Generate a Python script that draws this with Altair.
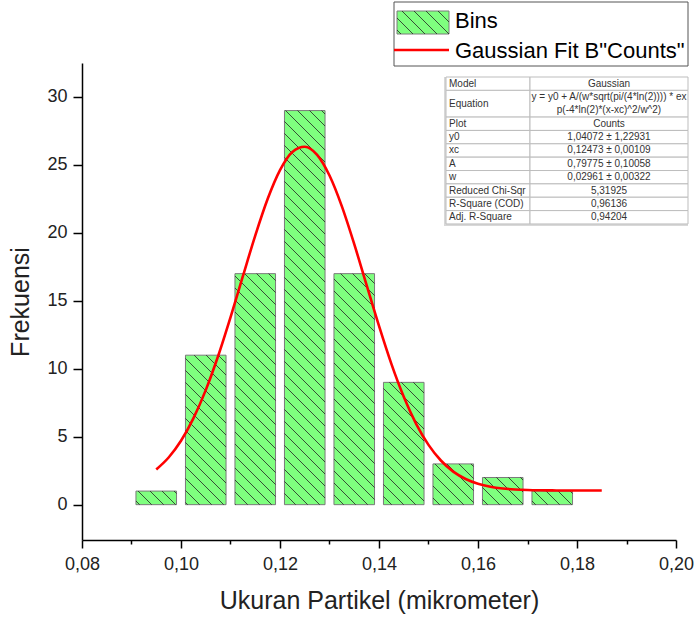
import altair as alt
import pandas as pd

# ---------------- data ----------------
bin_centers = [0.095, 0.105, 0.115, 0.125, 0.135, 0.145, 0.155, 0.165, 0.175]
counts = [1, 11, 17, 29, 17, 9, 3, 2, 1]

fit_x = [0.0950, 0.0975, 0.1000, 0.1025, 0.1050, 0.1075, 0.1100, 0.1125, 0.1150,
         0.1175, 0.1200, 0.1225, 0.1250, 0.1275, 0.1300, 0.1325, 0.1350, 0.1375,
         0.1400, 0.1425, 0.1450, 0.1475, 0.1500, 0.1525, 0.1550, 0.1575, 0.1600,
         0.1625, 0.1650, 0.1675, 0.1700, 0.1725, 0.1750, 0.1775, 0.1800, 0.1825,
         0.1850]
fit_y = [2.59, 3.47, 4.70, 6.35, 8.43, 10.94, 13.79, 16.81, 19.80,
         22.49, 24.62, 25.96, 26.34, 25.74, 24.22, 21.95, 19.17, 16.15,
         13.15, 10.36, 7.94, 5.95, 4.40, 3.25, 2.43, 1.89, 1.54,
         1.32, 1.19, 1.12, 1.08, 1.06, 1.05, 1.04, 1.04, 1.04,
         1.04]

x_ticks = [0.08, 0.09, 0.10, 0.11, 0.12, 0.13, 0.14, 0.15, 0.16, 0.17, 0.18, 0.19, 0.20]
y_ticks = [0, 2.5, 5, 7.5, 10, 12.5, 15, 17.5, 20, 22.5, 25, 27.5, 30, 32.5]

legend_labels = ["Bins", 'Gaussian Fit B"Counts"']
table_params = ["Model", "Equation", "Plot", "y0", "xc", "A", "w",
                "Reduced Chi-Sqr", "R-Square (COD)", "Adj. R-Square"]
table_values = ["Gaussian",
                "y = y0 + A/(w*sqrt(pi/(4*ln(2)))) * ex\np(-4*ln(2)*(x-xc)^2/w^2)",
                "Counts",
                "1,04072 \u00b1 1,22931",
                "0,12473 \u00b1 0,00109",
                "0,79775 \u00b1 0,10058",
                "0,02961 \u00b1 0,00322",
                "5,31925",
                "0,96136",
                "0,94204"]

# ---------------- layout ----------------
FONT = "Liberation Sans"
W, H = 594, 477
X0, X1 = 0.08, 0.20
Y0, Y1 = -2.6, 32.5
BAR_HALF = 0.0041
HATCH = 12.0


def px_x(v):
    return (v - X0) / (X1 - X0) * W


def px_y(v):
    return (Y1 - v) / (Y1 - Y0) * H


def dx(p):
    return X0 + p / W * (X1 - X0)


def dy(p):
    return Y1 - p / H * (Y1 - Y0)


def hatch_segments(xl, xr, yt, yb, step):
    import math
    segs = []
    cmin, cmax = yt - xr, yb - xl
    k = math.ceil(cmin / step)
    while k * step <= cmax:
        c = k * step
        xa = max(xl, yt - c)
        xb = min(xr, yb - c)
        if xb - xa > 0.5:
            segs.append((xa, xa + c, xb, xb + c))
        k += 1
    return segs


bars = pd.DataFrame({
    "left": [c - BAR_HALF for c in bin_centers],
    "right": [c + BAR_HALF for c in bin_centers],
    "count": counts,
})

hrows = []
for c, n in zip(bin_centers, counts):
    xl, xr = px_x(c - BAR_HALF), px_x(c + BAR_HALF)
    yt, yb = px_y(n), px_y(0)
    for (x1, y1, x2, y2) in hatch_segments(xl, xr, yt, yb, HATCH):
        hrows.append({"x": dx(x1), "y": dy(y1), "x2": dx(x2), "y2": dy(y2)})
hatch = pd.DataFrame(hrows)

fit = pd.DataFrame({"x": fit_x, "y": fit_y})

xscale = alt.Scale(domain=[X0, X1], nice=False, zero=False)
yscale = alt.Scale(domain=[Y0, Y1], nice=False, zero=False)

axis_common = dict(
    grid=False, domainColor="black", domainWidth=1.5, tickColor="black",
    tickWidth=1.5, labelFont=FONT, labelFontSize=18, labelColor="#222",
    titleFont=FONT, titleFontSize=25, titleFontWeight="normal", titleColor="#222",
    labelOverlap=False, labelFlush=False,
)

xaxis = alt.Axis(
    values=x_ticks,
    labelExpr="round(datum.value*100) % 2 == 0 ? replace(format(datum.value, '.2f'), '.', ',') : ''",
    tickSize={"condition": {"test": "round(datum.value*100) % 2 == 1", "value": 4}, "value": 8},
    labelPadding=7, titlePadding=15, title="Ukuran Partikel (mikrometer)",
    **axis_common,
)
yaxis = alt.Axis(
    values=y_ticks,
    labelExpr="datum.value % 5 == 0 ? format(datum.value, 'd') : ''",
    tickSize={"condition": {"test": "datum.value % 5 != 0", "value": 4}, "value": 9},
    labelPadding=6, titlePadding=13, title="Frekuensi",
    **axis_common,
)

bar_layer = alt.Chart(bars).mark_rect(
    fill="#7fff7f", stroke="#7a7a7a", strokeWidth=1
).encode(
    x=alt.X("left:Q", scale=xscale, axis=xaxis),
    x2="right:Q",
    y=alt.Y("count:Q", scale=yscale, axis=yaxis),
    y2=alt.datum(0),
)

hatch_layer = alt.Chart(hatch).mark_rule(
    color="#222222", strokeWidth=0.8
).encode(
    x=alt.X("x:Q", scale=xscale), y=alt.Y("y:Q", scale=yscale),
    x2="x2:Q", y2="y2:Q",
)

fit_layer = alt.Chart(fit).mark_line(
    color="#ff0000", strokeWidth=2.6, interpolate="monotone"
).encode(
    x=alt.X("x:Q", scale=xscale), y=alt.Y("y:Q", scale=yscale),
)

# ---------- table (pixel coords relative to plot origin) ----------
T_LEFT, T_MID, T_RIGHT, T_TOP, ROW = 364, 448, 606, 14, 13.36
cells, ltxt, rtxt = [], [], []
ytop = T_TOP
for p, v in zip(table_params, table_values):
    lines = v.split("\n")
    h = ROW * len(lines)
    cells.append({"x": T_LEFT, "x2": T_MID, "y": ytop, "y2": ytop + h})
    cells.append({"x": T_MID, "x2": T_RIGHT, "y": ytop, "y2": ytop + h})
    ltxt.append({"x": T_LEFT + 3, "y": ytop + h / 2, "t": p})
    for i, ln in enumerate(lines):
        rtxt.append({"x": (T_MID + T_RIGHT) / 2, "y": ytop + ROW * (i + 0.5), "t": ln})
    ytop += h
cells = pd.DataFrame(cells)
ltxt = pd.DataFrame(ltxt)
rtxt = pd.DataFrame(rtxt)


def PX(f):
    return alt.X(f, scale=None, axis=None)


def PY(f):
    return alt.Y(f, scale=None, axis=None)


table_shadow = alt.Chart(pd.DataFrame([{"x": T_LEFT - 2, "x2": T_RIGHT, "y": T_TOP, "y2": ytop + 2}])).mark_rect(
    fill="#d8d8d8"
).encode(x=PX("x:Q"), x2="x2:Q", y=PY("y:Q"), y2="y2:Q")

table_cells = alt.Chart(cells).mark_rect(
    fill="white", stroke="#bdbdbd", strokeWidth=1
).encode(x=PX("x:Q"), x2="x2:Q", y=PY("y:Q"), y2="y2:Q")

table_left = alt.Chart(ltxt).mark_text(
    align="left", baseline="middle", font=FONT, fontSize=10, color="#333"
).encode(x=PX("x:Q"), y=PY("y:Q"), text="t:N")

table_right = alt.Chart(rtxt).mark_text(
    align="center", baseline="middle", font=FONT, fontSize=10, color="#333"
).encode(x=PX("x:Q"), y=PY("y:Q"), text="t:N")

# ---------- legend ----------
L_LEFT, L_TOP, L_RIGHT, L_BOT = 312, -61, 606, 3
SW_L, SW_T, SW_R, SW_B = 315, -52, 367, -29

legend_box = alt.Chart(pd.DataFrame([{"x": L_LEFT, "x2": L_RIGHT, "y": L_TOP, "y2": L_BOT}])).mark_rect(
    fill="white", stroke="#555", strokeWidth=1
).encode(x=PX("x:Q"), x2="x2:Q", y=PY("y:Q"), y2="y2:Q")

legend_swatch = alt.Chart(pd.DataFrame([{"x": SW_L, "x2": SW_R, "y": SW_T, "y2": SW_B}])).mark_rect(
    fill="#7fff7f", stroke="#7a7a7a", strokeWidth=1
).encode(x=PX("x:Q"), x2="x2:Q", y=PY("y:Q"), y2="y2:Q")

lh = pd.DataFrame([{"x": a, "y": b, "x2": c, "y2": d}
                   for (a, b, c, d) in hatch_segments(SW_L, SW_R, SW_T, SW_B, HATCH)])
legend_hatch = alt.Chart(lh).mark_rule(color="#222222", strokeWidth=0.8).encode(
    x=PX("x:Q"), y=PY("y:Q"), x2="x2:Q", y2="y2:Q")

legend_line = alt.Chart(pd.DataFrame([{"x": L_LEFT, "x2": SW_R, "y": -13}])).mark_rule(
    color="#ff0000", strokeWidth=2.6
).encode(x=PX("x:Q"), x2="x2:Q", y=PY("y:Q"))

legend_text = alt.Chart(pd.DataFrame([
    {"x": 373, "y": -35, "t": legend_labels[0]},
    {"x": 373, "y": -5, "t": legend_labels[1]},
])).mark_text(
    align="left", baseline="alphabetic", font=FONT, fontSize=22, color="black"
).encode(x=PX("x:Q"), y=PY("y:Q"), text="t:N")

chart = alt.layer(
    bar_layer, hatch_layer, fit_layer,
    table_shadow, table_cells, table_left, table_right,
    legend_box, legend_swatch, legend_hatch, legend_line, legend_text,
).properties(
    width=W, height=H,
    autosize=alt.AutoSizeParams(type="none"),
    padding={"left": 82, "top": 63, "right": 22, "bottom": 79},
    background="white",
).configure_view(stroke=None)

chart.save("out.html", embed_options={"renderer": "svg", "actions": False})
